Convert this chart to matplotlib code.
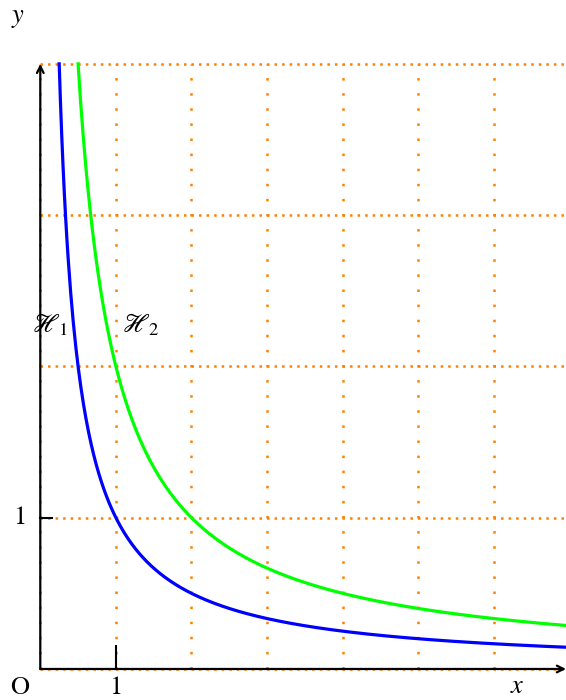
import numpy as np
import matplotlib.pyplot as plt

plt.rcParams["mathtext.fontset"] = "stix"
plt.rcParams["font.family"] = ["STIXGeneral", "DejaVu Serif"]

# data: two hyperbolas y = k / x
k_values = [1, 2]
curve_names = [r"$\mathscr{H}_1$", r"$\mathscr{H}_2$"]
curve_colors = ["#0000ff", "#00ff00"]
x_end = 7.0
y_top = 4
grid_x = [0, 1, 2, 3, 4, 5, 6]
grid_y = [0, 1, 2, 3, 4]

orange = "#ff8000"

fig = plt.figure(figsize=(5.66, 7.0), dpi=100)
ax = fig.add_axes([0, 0, 1, 1])
ax.set_xlim(-0.533, 6.954)
ax.set_ylim(-0.205, 4.422)
ax.axis("off")

# dotted grid
for gx in grid_x:
    ax.plot([gx, gx], [0, y_top], color=orange, lw=1.8,
            linestyle=(0, (1, 5.04)), zorder=1)
for gy in grid_y:
    ax.plot([0, x_end], [gy, gy], color=orange, lw=1.8,
            linestyle=(0, (1, 2.02)), zorder=1)

# curves
for k, color in zip(k_values, curve_colors):
    xs = np.linspace(k / y_top, x_end, 400)
    ax.plot(xs, k / xs, color=color, lw=2.3, zorder=3)

# axes with arrows
ax.annotate("", xy=(6.954, 0), xytext=(0, 0),
            arrowprops=dict(arrowstyle="->", lw=1.6, color="black",
                            mutation_scale=12, shrinkA=0, shrinkB=0), zorder=4)
ax.annotate("", xy=(0, y_top), xytext=(0, 0),
            arrowprops=dict(arrowstyle="->", lw=1.6, color="black",
                            mutation_scale=12, shrinkA=0, shrinkB=0), zorder=4)

# ticks at 1
ax.plot([1, 1], [0, 0.15], color="black", lw=1.5, zorder=4)
ax.plot([0, 0.15], [1, 1], color="black", lw=1.5, zorder=4)

fs = 19
ax.text(1, -0.125, "1", ha="center", va="center", fontsize=fs)
ax.text(-0.27, 1, "1", ha="center", va="center", fontsize=fs)
ax.text(-0.27, -0.125, "O", ha="center", va="center", fontsize=fs)
ax.text(6.31, -0.122, r"$x$", ha="center", va="center", fontsize=fs)
ax.text(-0.295, 4.30, r"$y$", ha="center", va="center", fontsize=fs)

ax.text(0.13, 2.27, curve_names[0], ha="center", va="center", fontsize=fs)
ax.text(1.32, 2.27, curve_names[1], ha="center", va="center", fontsize=fs)

fig.savefig("out.png", dpi=100)
